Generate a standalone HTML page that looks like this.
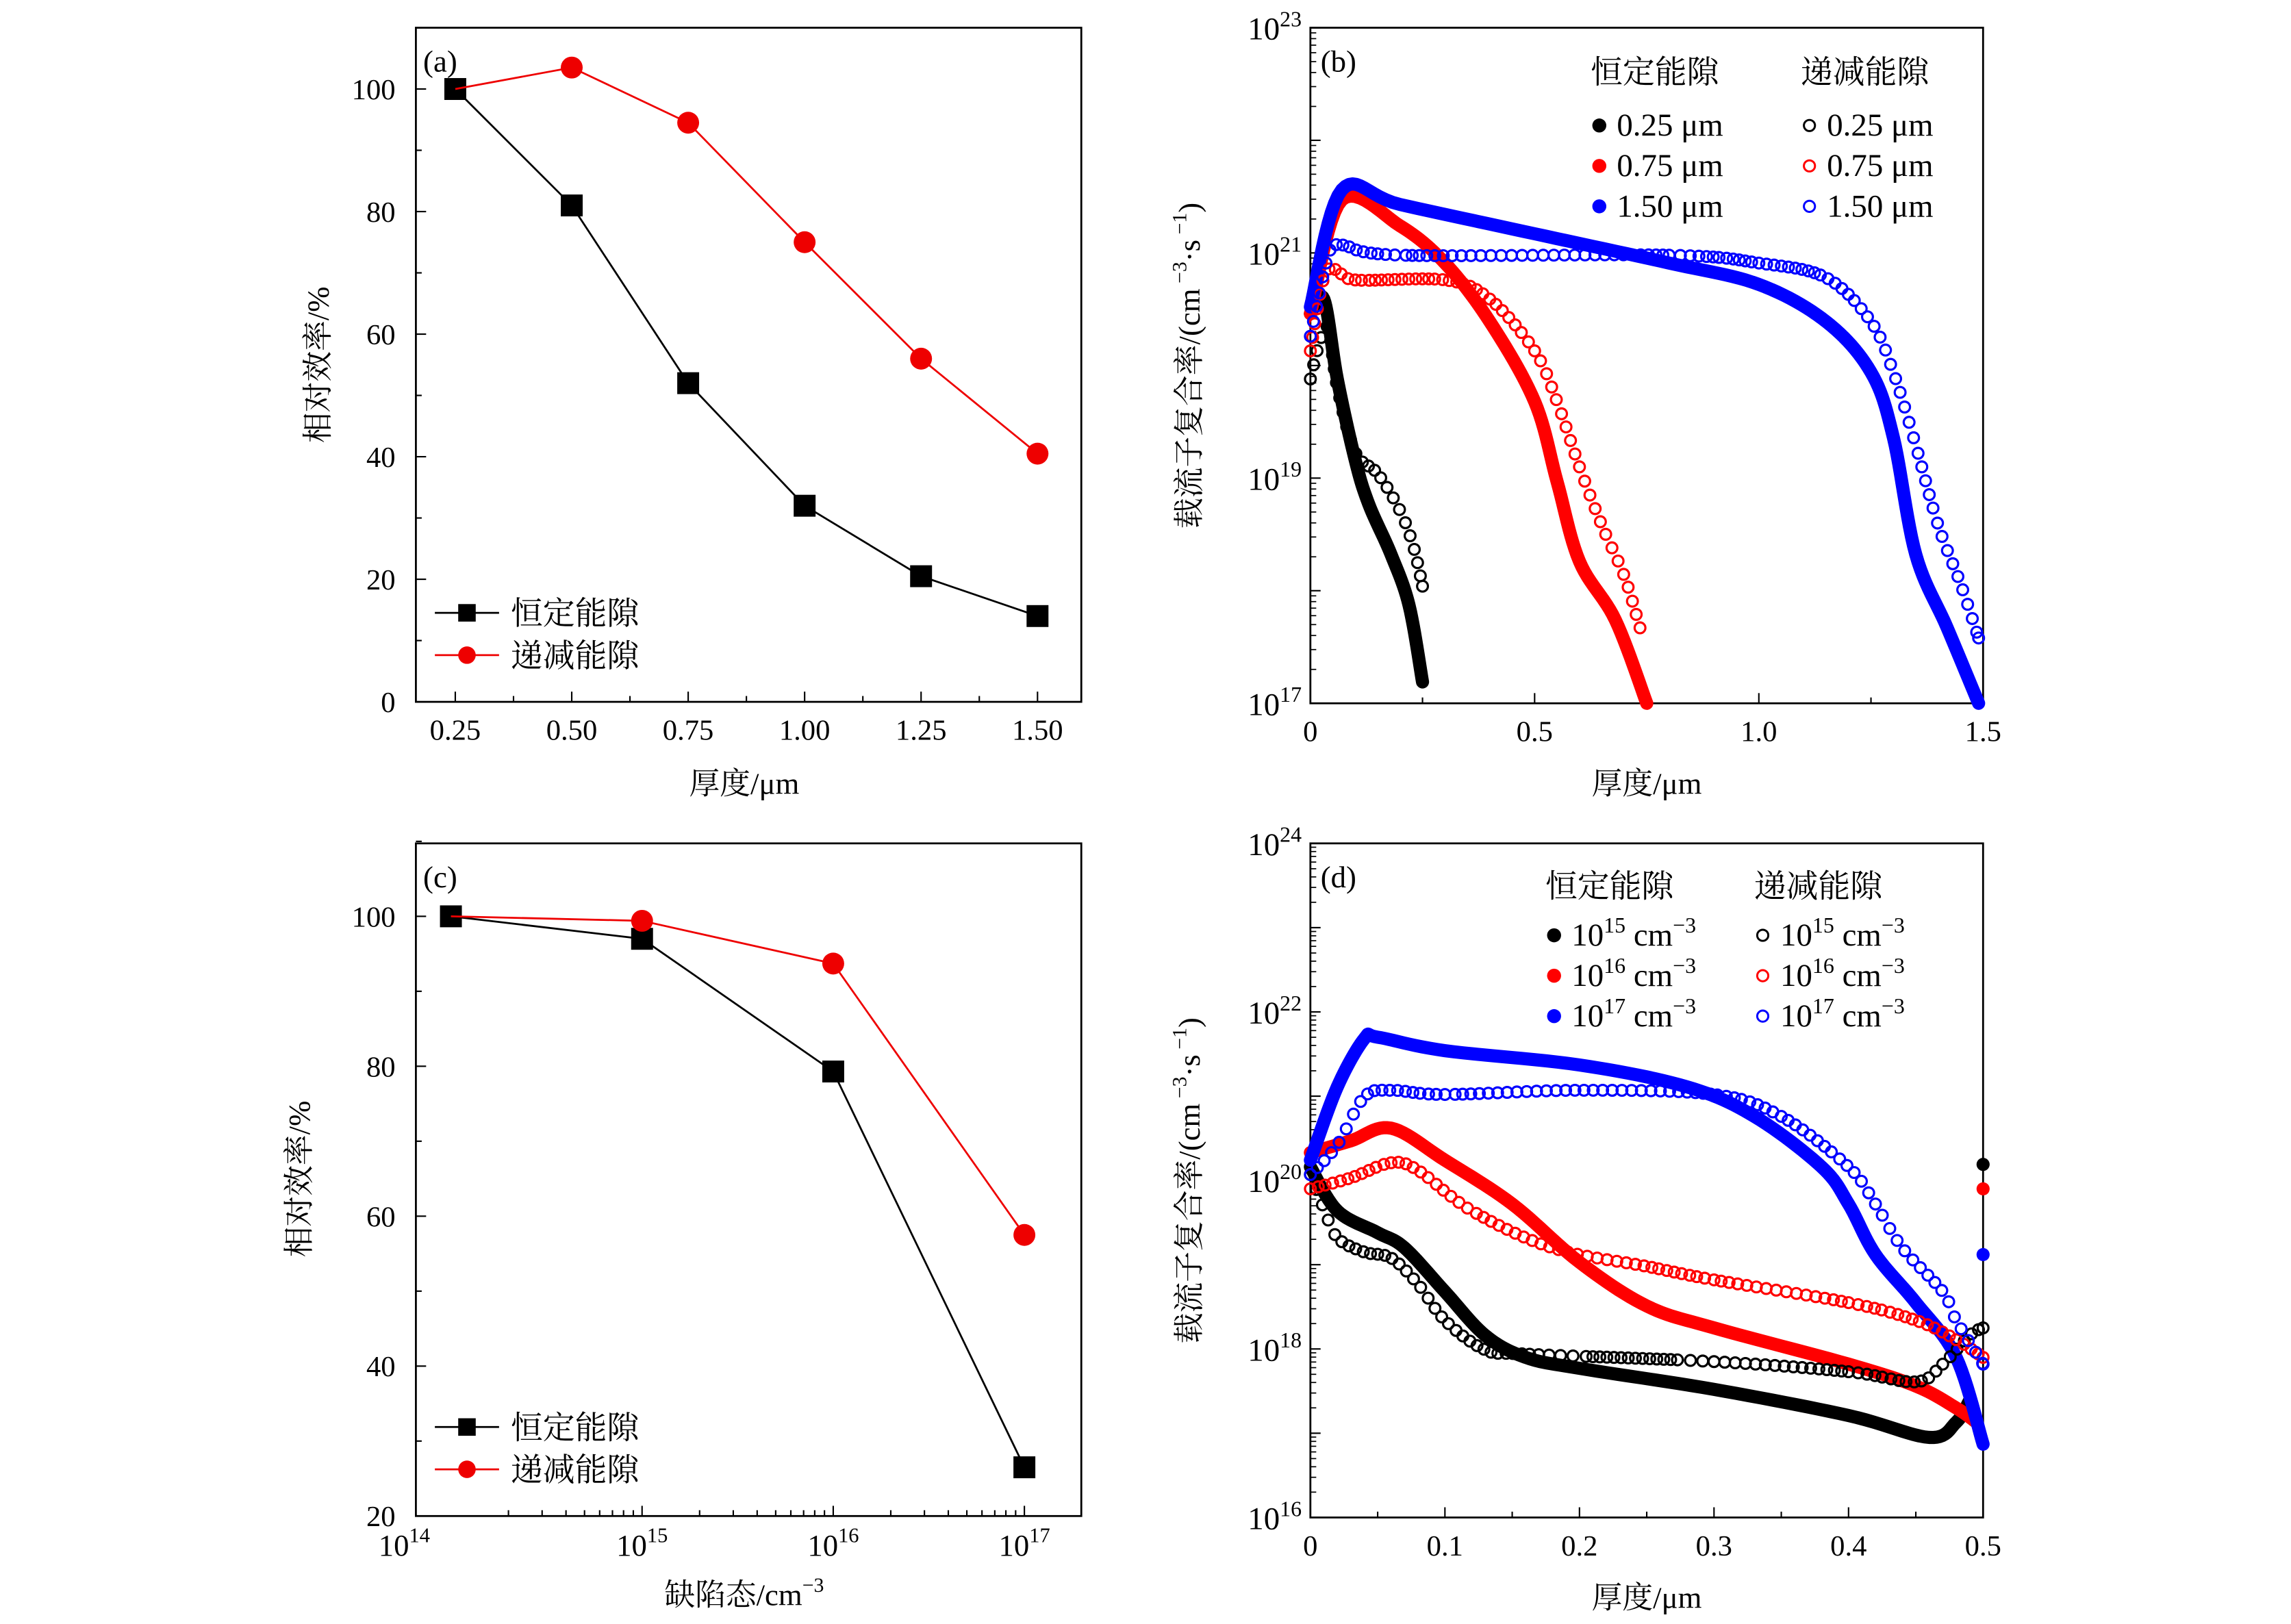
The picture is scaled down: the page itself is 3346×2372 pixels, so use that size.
<!DOCTYPE html>
<html><head><meta charset="utf-8"><style>
html,body{margin:0;padding:0;background:#fff}
svg{display:block}
text{font-family:"Liberation Serif","Noto Serif CJK SC",serif;fill:#000}
</style></head><body>
<svg id="fig" width="3346" height="2372" viewBox="0 0 1570 1113" xmlns="http://www.w3.org/2000/svg"></svg>
<script>
// ---- Panel (a) data ----
const aCats = [0.25, 0.5, 0.75, 1.0, 1.25, 1.5];
const aConst = [100, 81, 52, 32, 20.5, 14];
const aGrad = [100, 103.5, 94.5, 75, 56, 40.5];
const aXTicks = ["0.25","0.50","0.75","1.00","1.25","1.50"];
const aYTicks = [0, 20, 40, 60, 80, 100];
// ---- Panel (c) data ----
const cExp = [14, 15, 16, 17];
const cConst = [100, 97, 79.3, 26.5];
const cGrad = [100, 99.4, 93.7, 57.5];
const cYTicks = [20, 40, 60, 80, 100];
// ---- Panel (b) data (x in µm, y as log10 rate) ----
const bBlackX = [0,0.03,0.06,0.1,0.13,0.18,0.22,0.25];
const bBlackY = [20.46,20.59,19.88,19.16,18.77,18.32,17.87,17.19];
const bBlackOX = [0,0.02,0.04,0.06,0.1,0.15,0.2,0.23,0.25];
const bBlackOY = [19.88,20.2,20.33,19.81,19.23,19.04,18.71,18.39,18.04];
const bRedX = [0,0.07,0.2,0.3,0.4,0.5,0.55,0.6,0.68,0.75];
const bRedY = [20.46,21.47,21.24,20.91,20.39,19.68,18.97,18.26,17.74,17.0];
const bRedOX = [0,0.03,0.06,0.1,0.3,0.4,0.5,0.55,0.6,0.65,0.7,0.735];
const bRedOY = [20.13,20.78,20.85,20.76,20.76,20.59,20.13,19.68,19.10,18.58,18.13,17.67];
const bBlueX = [0,0.07,0.2,0.5,0.8,1.0,1.15,1.25,1.3,1.35,1.42,1.49];
const bBlueY = [20.52,21.56,21.43,21.17,20.91,20.72,20.39,19.94,19.36,18.32,17.67,17.0];
const bBlueOX = [0,0.04,0.07,0.2,0.8,1.0,1.15,1.25,1.3,1.35,1.4,1.45,1.49];
const bBlueOY = [20.26,20.98,21.07,20.98,20.98,20.91,20.78,20.39,19.94,19.29,18.58,18.06,17.58];
// ---- Panel (d) data ----
const dBlackX = [0,0.02,0.05,0.07,0.1,0.13,0.16,0.2,0.3,0.4,0.46,0.48,0.49];
const dBlackY = [20.16,19.64,19.38,19.20,18.68,18.16,17.90,17.77,17.52,17.21,16.95,17.13,17.39];
const dBlackOX = [0,0.01,0.02,0.04,0.06,0.08,0.1,0.13,0.16,0.3,0.4,0.45,0.47,0.49,0.5];
const dBlackOY = [20.07,19.67,19.32,19.15,19.08,18.77,18.34,17.99,17.94,17.85,17.73,17.61,17.82,18.16,18.25];
const dRedX = [0,0.03,0.06,0.1,0.15,0.2,0.25,0.3,0.4,0.45,0.48,0.495];
const dRedY = [20.33,20.47,20.62,20.24,19.72,19.03,18.51,18.25,17.82,17.56,17.30,17.13];
const dRedOX = [0,0.03,0.06,0.08,0.12,0.18,0.25,0.3,0.4,0.45,0.48,0.5];
const dRedOY = [19.90,20.03,20.21,20.12,19.64,19.20,18.98,18.82,18.55,18.34,18.11,17.90];
const dBlueX = [0,0.02,0.04,0.05,0.1,0.2,0.28,0.33,0.38,0.4,0.42,0.45,0.48,0.5];
const dBlueY = [20.24,21.11,21.68,21.70,21.54,21.37,21.11,20.76,20.16,19.72,19.12,18.55,17.90,16.87];
const dBlueOX = [0,0.02,0.04,0.06,0.1,0.2,0.3,0.35,0.4,0.42,0.44,0.47,0.48,0.5];
const dBlueOY = [20.07,20.42,20.99,21.07,21.02,21.07,21.02,20.76,20.16,19.72,19.20,18.68,18.34,17.82];
const dEndX = [0.5, 0.5, 0.5];
const dEndY = [20.19, 19.9, 19.12];

const NS="http://www.w3.org/2000/svg";
const svg=document.getElementById('fig');
function el(tag,attrs,parent,txt){const e=document.createElementNS(NS,tag);for(const k in attrs)e.setAttribute(k,attrs[k]);if(txt!==undefined)e.textContent=txt;(parent||svg).appendChild(e);return e;}
function grp(name){const g=el('g',{});


return g;}
function lin(x0,x1,p0,p1){return v=>p0+(v-x0)/(x1-x0)*(p1-p0);}
function frame(g,L,R,T,B){el('rect',{x:L,y:T,width:R-L,height:B-T,fill:'none',stroke:'#000','stroke-width':1.3},g);}
function pow(parent,x,y,anchor,e,fs){const t=el('text',{x:x,y:y,'text-anchor':anchor,'font-size':fs},parent);
 el('tspan',{},t,'10');el('tspan',{dy:-9,'font-size':fs*0.68},t,String(e));return t;}
function smoothPts(P,n){const out=[];for(let i=0;i<P.length-1;i++){const p0=P[Math.max(i-1,0)],p1=P[i],p2=P[i+1],p3=P[Math.min(i+2,P.length-1)];
 for(let k=0;k<n;k++){const t=k/n,t2=t*t,t3=t2*t;const f=(a,b,c,d)=>0.5*((2*b)+(-a+c)*t+(2*a-5*b+4*c-d)*t2+(-a+3*b-3*c+d)*t3);
  out.push([f(p0[0],p1[0],p2[0],p3[0]),f(p0[1],p1[1],p2[1],p3[1])]);}}
 out.push(P[P.length-1]);return out;}

// ===== Panel a =====
(function(){
const g=grp('panel-a');
const L=285,R=741,T=19,B=481;
const X=lin(0.25,1.5,312,711), Y=lin(0,100,481,61);
frame(g,L,R,T,B);
const ax=grp('x-axis-a');g.appendChild(ax);
aCats.forEach((c,i)=>{el('line',{x1:X(c),x2:X(c),y1:B,y2:B-7,stroke:'#000','stroke-width':1},ax);
 const t=el('text',{x:X(c),y:B+26,'text-anchor':'middle','font-size':20},ax,aXTicks[i]);
 
 
 if(i<aCats.length-1){const m=X(c+0.125);el('line',{x1:m,x2:m,y1:B,y2:B-4,stroke:'#000','stroke-width':1},ax);}});
const ay=grp('y-axis-a');g.appendChild(ay);
aYTicks.forEach(v=>{el('line',{x1:L,x2:L+7,y1:Y(v),y2:Y(v),stroke:'#000','stroke-width':1},ay);
 el('text',{x:L-14,y:Y(v)+7,'text-anchor':'end','font-size':20},ay,String(v));
 el('line',{x1:L,x2:L+4,y1:Y(v+10),y2:Y(v+10),stroke:'#000','stroke-width':1},ay);});
const yt=el('text',{x:0,y:0,transform:'translate(225,250) rotate(-90)','text-anchor':'middle','font-size':21},g,'相对效率/%');


const xt=el('text',{x:510,y:544,'text-anchor':'middle','font-size':21},g,'厚度/μm');


el('text',{x:290,y:49,'font-size':21},g,'(a)');
const s1=grp('series-constant-a');g.appendChild(s1);
el('polyline',{points:aCats.map((c,i)=>X(c)+','+Y(aConst[i])).join(' '),fill:'none',stroke:'#000','stroke-width':1.3},s1);
aCats.forEach((c,i)=>{const r=el('rect',{x:X(c)-7.5,y:Y(aConst[i])-7.5,width:15,height:15,fill:'#000'},s1);
 
 });
const s2=grp('series-graded-a');g.appendChild(s2);
el('polyline',{points:aCats.map((c,i)=>X(c)+','+Y(aGrad[i])).join(' '),fill:'none',stroke:'#e00','stroke-width':1.3},s2);
aCats.forEach((c,i)=>{if(i===0)return;const r=el('circle',{cx:X(c),cy:Y(aGrad[i]),r:7.5,fill:'#e00'},s2);
 
 });
const lg=grp('legend-a');g.appendChild(lg);
el('line',{x1:298,x2:342,y1:420,y2:420,stroke:'#000','stroke-width':1.3},lg);
el('rect',{x:314,y:414,width:12,height:12,fill:'#000'},lg);
el('text',{x:350,y:428,'font-size':22},lg,'恒定能隙');
el('line',{x1:298,x2:342,y1:449,y2:449,stroke:'#e00','stroke-width':1.3},lg);
el('circle',{cx:320,cy:449,r:6,fill:'#e00'},lg);
el('text',{x:350,y:457,'font-size':22},lg,'递减能隙');
})();

// ===== Panel c =====
(function(){
const g=grp('panel-c');
const L=285,R=741,T=578,B=1039;
const X=lin(14,17,309,702), Y=lin(20,100,1039,628);
frame(g,L,R,T,B);
const ax=grp('x-axis-c');g.appendChild(ax);
[15,16,17].forEach(e=>{el('line',{x1:X(e),x2:X(e),y1:B,y2:B-7,stroke:'#000','stroke-width':1},ax);
 pow(ax,X(e),B+27,'middle',e,21);});
pow(ax,L-8,B+27,'middle',14,21);
for(let e=14;e<17;e++)for(let k=2;k<10;k++){const x=X(e+Math.log10(k));if(x<L)continue;el('line',{x1:x,x2:x,y1:B,y2:B-4,stroke:'#000','stroke-width':1},ax);}
const ay=grp('y-axis-c');g.appendChild(ay);
cYTicks.forEach(v=>{el('line',{x1:L,x2:L+7,y1:Y(v),y2:Y(v),stroke:'#000','stroke-width':1},ay);
 el('text',{x:L-14,y:Y(v)+7,'text-anchor':'end','font-size':20},ay,String(v));
 el('line',{x1:L,x2:L+4,y1:Y(v+10),y2:Y(v+10),stroke:'#000','stroke-width':1},ay);});
const yt=el('text',{x:0,y:0,transform:'translate(212,808) rotate(-90)','text-anchor':'middle','font-size':21},g,'相对效率/%');


const xt=el('text',{x:510,y:1100,'text-anchor':'middle','font-size':21},g);


el('tspan',{},xt,'缺陷态/cm');el('tspan',{dy:-9,'font-size':14},xt,'−3');
el('text',{x:290,y:608,'font-size':21},g,'(c)');
const s1=grp('series-constant-c');g.appendChild(s1);
el('polyline',{points:cExp.map((c,i)=>X(c)+','+Y(cConst[i])).join(' '),fill:'none',stroke:'#000','stroke-width':1.3},s1);
cExp.forEach((c,i)=>{const r=el('rect',{x:X(c)-7.5,y:Y(cConst[i])-7.5,width:15,height:15,fill:'#000'},s1);
 
 });
const s2=grp('series-graded-c');g.appendChild(s2);
el('polyline',{points:cExp.map((c,i)=>X(c)+','+Y(cGrad[i])).join(' '),fill:'none',stroke:'#e00','stroke-width':1.3},s2);
cExp.forEach((c,i)=>{if(i===0)return;const r=el('circle',{cx:X(c),cy:Y(cGrad[i]),r:7.5,fill:'#e00'},s2);
 
 });
const lg=grp('legend-c');g.appendChild(lg);
el('line',{x1:298,x2:342,y1:978,y2:978,stroke:'#000','stroke-width':1.3},lg);
el('rect',{x:314,y:972,width:12,height:12,fill:'#000'},lg);
el('text',{x:350,y:986,'font-size':22},lg,'恒定能隙');
el('line',{x1:298,x2:342,y1:1007,y2:1007,stroke:'#e00','stroke-width':1.3},lg);
el('circle',{cx:320,cy:1007,r:6,fill:'#e00'},lg);
el('text',{x:350,y:1015,'font-size':22},lg,'递减能隙');
})();

// ===== log panels =====
function logPanel(o){
const g=grp(o.name);
const {L,R,T,B}=o;
const X=lin(0,o.xmax,L,R), Y=lin(o.ymin,o.ymax,B,T);
frame(g,L,R,T,B);
const ax=grp('x-axis-'+o.id);g.appendChild(ax);
o.xt.forEach((v,i)=>{el('line',{x1:X(v),x2:X(v),y1:B,y2:B-7,stroke:'#000','stroke-width':1},ax);
 el('text',{x:X(v),y:B+26,'text-anchor':'middle','font-size':20},ax,o.xl[i]);
 if(i<o.xt.length-1){const m=X(v+o.xstep/2);el('line',{x1:m,x2:m,y1:B,y2:B-4,stroke:'#000','stroke-width':1},ax);}});
const ay=grp('y-axis-'+o.id);g.appendChild(ay);
for(let e=o.ymin;e<=o.ymax;e++){el('line',{x1:L,x2:L+7,y1:Y(e),y2:Y(e),stroke:'#000','stroke-width':1},ay);
 if((e-o.ymin)%2===0){pow(ay,L-6,Y(e)+8,'end',e,22);}
 if(e<o.ymax)for(let k=2;k<10;k++){const y=Y(e+Math.log10(k));el('line',{x1:L,x2:L+4,y1:y,y2:y,stroke:'#000','stroke-width':0.8},ay);}}
const yt=el('text',{x:0,y:0,transform:'translate('+(L-76)+','+((T+B)/2)+') rotate(-90)','text-anchor':'middle','font-size':21},g);


el('tspan',{},yt,'载流子复合率/(cm');el('tspan',{dy:-9,'font-size':14},yt,' −3');el('tspan',{dy:9},yt,'·s');el('tspan',{dy:-9,'font-size':14},yt,' −1');el('tspan',{dy:9},yt,')');
const xt=el('text',{x:(L+R)/2,y:B+62,'text-anchor':'middle','font-size':21},g,'厚度/μm');


el('text',{x:L+7,y:T+30,'font-size':21},g,'('+o.id+')');
const cols={k:'#000',r:'#f00',b:'#00f'};
o.filled.forEach(s=>{const sg=grp('series-'+s.n);g.appendChild(sg);
 const P=smoothPts(s.x.map((v,i)=>[X(v),Y(s.y[i])]),12);
 el('polyline',{points:P.map(p=>p[0].toFixed(2)+','+p[1].toFixed(2)).join(' '),fill:'none',stroke:cols[s.c],'stroke-width':9,'stroke-linejoin':'round','stroke-linecap':'round'},sg);});
o.open.forEach(s=>{const sg=grp('series-'+s.n);g.appendChild(sg);
 const P=smoothPts(s.x.map((v,i)=>[X(v),Y(s.y[i])]),30);
 let last=P[0];el('circle',{cx:last[0],cy:last[1],r:3.7,fill:'none',stroke:cols[s.c],'stroke-width':1.5},sg);
 for(let i=1;i<P.length;i++){const p=P[i];const dx=p[0]-last[0],d=Math.hypot(dx,p[1]-last[1]);
  if(dx>=o.mstep||d>=o.mstep*2.3||i===P.length-1){el('circle',{cx:p[0],cy:p[1],r:3.7,fill:'none',stroke:cols[s.c],'stroke-width':1.5},sg);last=p;}}});
(o.dots||[]).forEach(d=>{const c=el('circle',{cx:X(d.x),cy:Y(d.y),r:4.5,fill:cols[d.c]},g);
 
 });
const lg=grp('legend-'+o.id);g.appendChild(lg);
el('text',{x:o.lx1-6,y:o.ly0,'font-size':22},lg,'恒定能隙');
el('text',{x:o.lx2-6,y:o.ly0,'font-size':22},lg,'递减能隙');
o.lab.forEach((lb,i)=>{const y=o.ly1+i*27.7;const c=cols[['k','r','b'][i]];
 el('circle',{cx:o.lx1,cy:y,r:4.8,fill:c},lg);
 el('circle',{cx:o.lx2,cy:y,r:3.8,fill:'none',stroke:c,'stroke-width':1.4},lg);
 [o.lx1,o.lx2].forEach(xx=>{const t=el('text',{x:xx+12,y:y+7,'font-size':22},lg);
  if(o.id==='b'){t.textContent=lb;}else{el('tspan',{},t,'10');el('tspan',{dy:-9,'font-size':15},t,lb);el('tspan',{dy:9},t,' cm');el('tspan',{dy:-9,'font-size':15},t,'−3');}});});
}
logPanel({name:'panel-b',id:'b',L:898,R:1359,T:19,B:482,xmax:1.5,ymin:17,ymax:23,xt:[0,0.5,1.0,1.5],xl:['0','0.5','1.0','1.5'],xstep:0.5,mstep:4.0,
 filled:[{n:'const-025',c:'k',x:bBlackX,y:bBlackY},{n:'const-075',c:'r',x:bRedX,y:bRedY},{n:'const-150',c:'b',x:bBlueX,y:bBlueY}],
 open:[{n:'grad-025',c:'k',x:bBlackOX,y:bBlackOY},{n:'grad-075',c:'r',x:bRedOX,y:bRedOY},{n:'grad-150',c:'b',x:bBlueOX,y:bBlueOY}],
 lx1:1096,lx2:1240,ly0:57,ly1:86,lab:['0.25 μm','0.75 μm','1.50 μm']});
logPanel({name:'panel-d',id:'d',L:898,R:1359,T:578,B:1040,xmax:0.5,ymin:16,ymax:24,xt:[0,0.1,0.2,0.3,0.4,0.5],xl:['0','0.1','0.2','0.3','0.4','0.5'],xstep:0.1,mstep:4.6,
 filled:[{n:'const-1e15',c:'k',x:dBlackX,y:dBlackY},{n:'const-1e16',c:'r',x:dRedX,y:dRedY},{n:'const-1e17',c:'b',x:dBlueX,y:dBlueY}],
 open:[{n:'grad-1e15',c:'k',x:dBlackOX,y:dBlackOY},{n:'grad-1e16',c:'r',x:dRedOX,y:dRedOY},{n:'grad-1e17',c:'b',x:dBlueOX,y:dBlueOY}],
 dots:dEndX.map((x,i)=>({x:x,y:dEndY[i],c:['k','r','b'][i]})),
 lx1:1065,lx2:1208,ly0:615,ly1:641,lab:['15','16','17']});
</script>
</body></html>
